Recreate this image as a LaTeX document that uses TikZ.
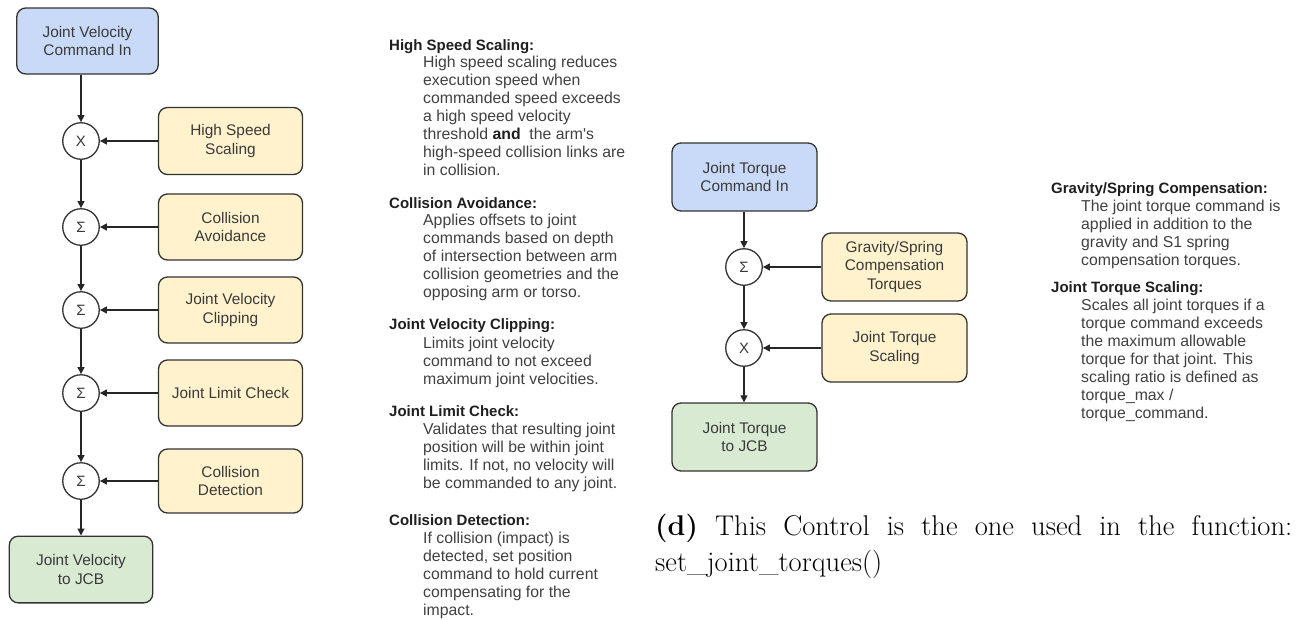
\documentclass[tikz,border=0pt]{standalone}
\usepackage{fontspec}
\newfontfamily\arialf{Liberation Sans}
\usetikzlibrary{arrows.meta}
\definecolor{boxline}{HTML}{333333}
\definecolor{boxtext}{HTML}{3A3A3A}
\definecolor{bluefill}{HTML}{C9DAF8}
\definecolor{yellowfill}{HTML}{FFF2CC}
\definecolor{greenfill}{HTML}{D9EAD3}
\definecolor{headcol}{HTML}{1E1E1E}
\definecolor{bodycol}{HTML}{404040}
\tikzset{
  blk/.style={draw=boxline, line width=1.3pt, rounded corners=9pt, align=center,
    inner sep=0pt, text=boxtext, font=\arialf\fontsize{15.4}{18.5}\selectfont},
  inbox/.style={blk, fill=bluefill},
  corrbox/.style={blk, fill=yellowfill},
  outbox/.style={blk, fill=greenfill},
  sumnode/.style={circle, draw=boxline, line width=1.3pt, fill=white, minimum size=36.5pt,
    inner sep=0pt, text=boxtext, font=\arialf\fontsize{15}{17}\selectfont},
  arr/.style={draw=black!85, line width=1.3pt, -{Triangle[length=7pt,width=7pt]}},
  headtxt/.style={anchor=base west, inner sep=0pt, text=headcol,
    font=\arialf\bfseries\fontsize{15}{18}\selectfont},
  bodytxt/.style={anchor=north west, inner sep=0pt, align=left, text=bodycol,
    font=\arialf\fontsize{15.8}{18.1}\selectfont},
  captxt/.style={anchor=base west, inner sep=0pt, text=black, font=\fontsize{28.5}{36}\selectfont}
}
\begin{document}
\begin{tikzpicture}[x=1pt,y=-1pt]
\useasboundingbox (0,0) rectangle (1306,619);
% ---------- left diagram ----------
\node[inbox, minimum width=141.5pt, minimum height=66pt] (vin) at (87.5,41) {Joint Velocity\\Command In};
\node[corrbox, minimum width=144pt, minimum height=67pt] (hss) at (230.5,141) {High Speed\\Scaling};
\node[corrbox, minimum width=144pt, minimum height=66pt] (ca) at (230.5,227) {Collision\\Avoidance};
\node[corrbox, minimum width=144pt, minimum height=66pt] (jvc) at (230.5,310) {Joint Velocity\\Clipping};
\node[corrbox, minimum width=144pt, minimum height=66pt] (jlc) at (230.5,393) {Joint Limit Check};
\node[corrbox, minimum width=144pt, minimum height=64pt] (cd) at (230.5,481) {Collision\\Detection};
\node[outbox, minimum width=143.4pt, minimum height=66.7pt] (vout) at (81,569.5) {Joint Velocity\\to JCB};
\node[sumnode] (c1) at (81,141) {X};
\node[sumnode] (c2) at (81,227) {Σ};
\node[sumnode] (c3) at (81,310) {Σ};
\node[sumnode] (c4) at (81,393) {Σ};
\node[sumnode] (c5) at (81,481) {Σ};
\draw[arr] (vin.south -| c1) -- (c1);
\draw[arr] (c1) -- (c2);
\draw[arr] (c2) -- (c3);
\draw[arr] (c3) -- (c4);
\draw[arr] (c4) -- (c5);
\draw[arr] (c5) -- (vout.north -| c5);
\draw[arr] (hss.west) -- (c1);
\draw[arr] (ca.west) -- (c2);
\draw[arr] (jvc.west) -- (c3);
\draw[arr] (jlc.west) -- (c4);
\draw[arr] (cd.west) -- (c5);
% ---------- left descriptions ----------
\node[headtxt] (h1) at (389,50) {High Speed Scaling:};
\node[bodytxt] (b1) at (423,54.4) {\strut High speed scaling reduces\\execution speed when\\commanded speed exceeds\\a high speed velocity\\threshold \textbf{\color{headcol}and}\ \ the arm's\\high-speed collision links are\\in collision.};
\node[headtxt] (h2) at (389,208) {Collision Avoidance:};
\node[bodytxt] (b2) at (423,212.4) {\strut Applies offsets to joint\\commands based on depth\\of intersection between arm\\collision geometries and the\\opposing arm or torso.};
\node[headtxt] (h3) at (389,329) {Joint Velocity Clipping:};
\node[bodytxt] (b3) at (423,335.4) {\strut Limits joint velocity\\command to not exceed\\maximum joint velocities.};
\node[headtxt] (h4) at (389,416) {Joint Limit Check:};
\node[bodytxt] (b4) at (423,421.4) {\strut Validates that resulting joint\\position will be within joint\\limits. If not, no velocity will\\be commanded to any joint.};
\node[headtxt] (h5) at (389,525) {Collision Detection:};
\node[bodytxt] (b5) at (423,530.4) {\strut If collision (impact) is\\detected, set position\\command to hold current\\compensating for the\\impact.};
% ---------- middle diagram ----------
\node[inbox, minimum width=145pt, minimum height=68pt] (tin) at (744.5,177) {Joint Torque\\Command In};
\node[corrbox, minimum width=145pt, minimum height=68pt] (gsc) at (894.5,267) {Gravity/Spring\\Compensation\\Torques};
\node[corrbox, minimum width=145pt, minimum height=68pt] (jts) at (894.5,348) {Joint Torque\\Scaling};
\node[outbox, minimum width=145pt, minimum height=68pt] (tout) at (744.5,437) {Joint Torque\\to JCB};
\node[sumnode] (c6) at (744,267) {Σ};
\node[sumnode] (c7) at (744,348) {X};
\draw[arr] (tin.south -| c6) -- (c6);
\draw[arr] (c6) -- (c7);
\draw[arr] (c7) -- (tout.north -| c7);
\draw[arr] (gsc.west) -- (c6);
\draw[arr] (jts.west) -- (c7);
% ---------- right descriptions ----------
\node[headtxt] (h6) at (1051,193) {Gravity/Spring Compensation:};
\node[bodytxt] (b6) at (1081,198.4) {\strut The joint torque command is\\applied in addition to the\\gravity and S1 spring\\compensation torques.};
\node[headtxt] (h7) at (1051,292) {Joint Torque Scaling:};
\node[bodytxt] (b7) at (1081,297.4) {\strut Scales all joint torques if a\\torque command exceeds\\the maximum allowable\\torque for that joint. This\\scaling ratio is defined as\\torque\_max /\\torque\_command.};
% ---------- caption ----------
\node[captxt] (cap1) at (655,535) {\makebox[637pt][s]{\textbf{(d)} This Control is the one used in the function:}};
\node[captxt] (cap2) at (655,571) {set\_joint\_torques()};
\end{tikzpicture}
\end{document}
